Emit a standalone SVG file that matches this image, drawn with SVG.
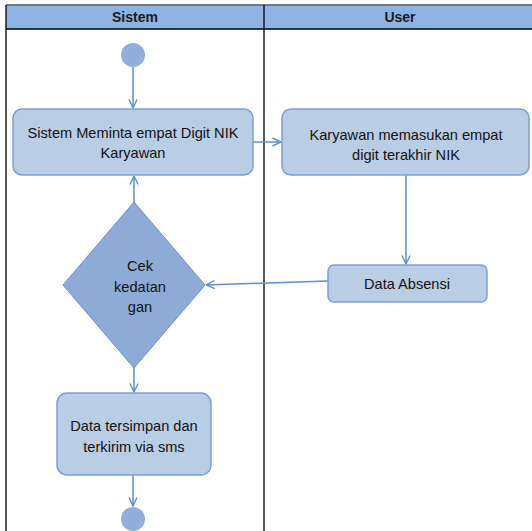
<svg xmlns="http://www.w3.org/2000/svg" width="532" height="531" viewBox="0 0 532 531">
<style>
.lane{fill:none;stroke:#000;stroke-width:1.3}
.hdr{fill:#8db3e2}
.ht{font-family:"Liberation Sans",Arial,sans-serif;font-size:14px;font-weight:bold;fill:#1a1a1a;text-anchor:middle}
.box{fill:#b9cde5;stroke:#7ba0d2;stroke-width:1.5}
.dia{fill:#8eabd8;stroke:#6f8fc2;stroke-width:1}
.dot{fill:#8fb0dc}
.t{font-family:"Liberation Sans",Arial,sans-serif;font-size:14.6px;fill:#111;text-anchor:middle}
.c{fill:none;stroke:#5b8fd0;stroke-width:1.5}
</style>
<defs>
<marker id="ah" viewBox="0 0 10 10" refX="9.5" refY="5" markerWidth="10" markerHeight="10" markerUnits="userSpaceOnUse" orient="auto">
<path d="M1,1 L9.5,5 L1,9" fill="none" stroke="#5b8fd0" stroke-width="1.4"/>
</marker>
</defs>
<rect width="532" height="531" fill="#fff"/>
<g id="swimlanes">
<rect class="hdr" x="6" y="5" width="526" height="24"/>
<line x1="6" y1="5" x2="532" y2="5" stroke="#777" stroke-width="2"/>
<line class="lane" x1="6" y1="29" x2="532" y2="29"/>
<line class="lane" x1="6" y1="5" x2="6" y2="531"/>
<line class="lane" x1="264" y1="5" x2="264" y2="531"/>
<text class="ht" x="135" y="22">Sistem</text>
<text class="ht" x="400" y="22">User</text>
</g>
<g id="connectors">
<line class="c" x1="133" y1="67" x2="133" y2="108" marker-end="url(#ah)"/>
<line class="c" x1="253" y1="142" x2="281" y2="142" marker-end="url(#ah)"/>
<line class="c" x1="406" y1="175" x2="406" y2="264" marker-end="url(#ah)"/>
<line class="c" x1="328" y1="281" x2="206" y2="285" marker-end="url(#ah)"/>
<line class="c" x1="134" y1="202" x2="134" y2="176" marker-end="url(#ah)"/>
<line class="c" x1="134" y1="368" x2="134" y2="392" marker-end="url(#ah)"/>
<line class="c" x1="133" y1="475" x2="133" y2="506" marker-end="url(#ah)"/>
</g>
<g id="start"><circle class="dot" cx="133" cy="55" r="12"/></g>
<g id="n1">
<rect class="box" x="13" y="109" width="240" height="66" rx="9"/>
<text class="t" x="133" y="138">Sistem Meminta empat Digit NIK</text>
<text class="t" x="133" y="158">Karyawan</text>
</g>
<g id="n2">
<rect class="box" x="282" y="109" width="247" height="66" rx="9"/>
<text class="t" x="406" y="140">Karyawan memasukan empat</text>
<text class="t" x="406" y="160">digit terakhir NIK</text>
</g>
<g id="n3">
<rect class="box" x="328" y="265" width="159" height="37" rx="6"/>
<text class="t" x="407" y="289">Data Absensi</text>
</g>
<g id="n4">
<polygon class="dia" points="134,202 205,285 134,368 63,285"/>
<text class="t" x="140" y="271">Cek</text>
<text class="t" x="140" y="292">kedatan</text>
<text class="t" x="140" y="312">gan</text>
</g>
<g id="n5">
<rect class="box" x="57" y="393" width="154" height="82" rx="10"/>
<text class="t" x="134" y="431">Data tersimpan dan</text>
<text class="t" x="134" y="452">terkirim via sms</text>
</g>
<g id="end"><circle class="dot" cx="133" cy="519" r="12"/></g>
</svg>
